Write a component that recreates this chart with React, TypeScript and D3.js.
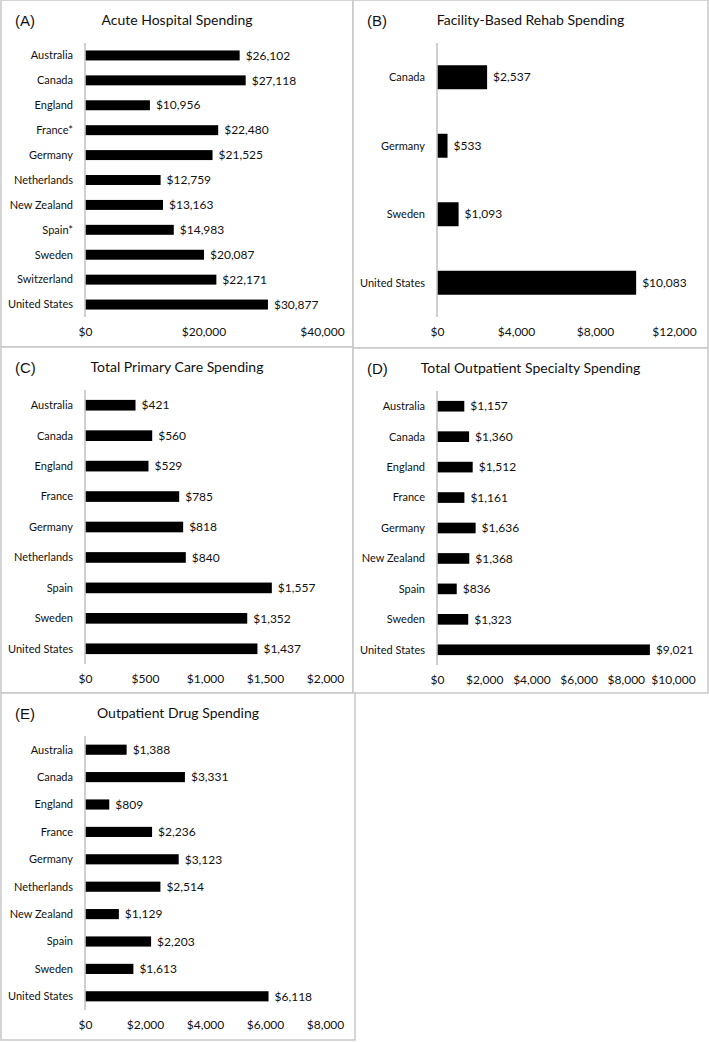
import React, { useEffect, useRef } from 'react';
import * as d3 from 'd3';

// chart data
const acuteCats = ['Australia', 'Canada', 'England', 'France*', 'Germany', 'Netherlands', 'New Zealand', 'Spain*', 'Sweden', 'Switzerland', 'United States'];
const acuteVals = [26102, 27118, 10956, 22480, 21525, 12759, 13163, 14983, 20087, 22171, 30877];
const acuteTicks = [0, 20000, 40000];

const rehabCats = ['Canada', 'Germany', 'Sweden', 'United States'];
const rehabVals = [2537, 533, 1093, 10083];
const rehabTicks = [0, 4000, 8000, 12000];

const primaryCats = ['Australia', 'Canada', 'England', 'France', 'Germany', 'Netherlands', 'Spain', 'Sweden', 'United States'];
const primaryVals = [421, 560, 529, 785, 818, 840, 1557, 1352, 1437];
const primaryTicks = [0, 500, 1000, 1500, 2000];

const specialtyCats = ['Australia', 'Canada', 'England', 'France', 'Germany', 'New Zealand', 'Spain', 'Sweden', 'United States'];
const specialtyVals = [1157, 1360, 1512, 1161, 1636, 1368, 836, 1323, 9021];
const specialtyTicks = [0, 2000, 4000, 6000, 8000, 10000];

const drugCats = ['Australia', 'Canada', 'England', 'France', 'Germany', 'Netherlands', 'New Zealand', 'Spain', 'Sweden', 'United States'];
const drugVals = [1388, 3331, 809, 2236, 3123, 2514, 1129, 2203, 1613, 6118];
const drugTicks = [0, 2000, 4000, 6000, 8000];

// panel layout
const panels = [
  { tag: '(A)', title: 'Acute Hospital Spending', cats: acuteCats, vals: acuteVals, ticks: acuteTicks, x: 1, y: 0, w: 352, h: 347, right: 322, bar: 0.4 },
  { tag: '(B)', title: 'Facility-Based Rehab Spending', cats: rehabCats, vals: rehabVals, ticks: rehabTicks, x: 353, y: 0, w: 355, h: 348, right: 674, bar: 0.35 },
  { tag: '(C)', title: 'Total Primary Care Spending', cats: primaryCats, vals: primaryVals, ticks: primaryTicks, x: 1, y: 347, w: 352, h: 346, right: 325, bar: 0.35 },
  { tag: '(D)', title: 'Total Outpatient Specialty Spending', cats: specialtyCats, vals: specialtyVals, ticks: specialtyTicks, x: 353, y: 348, w: 355, h: 345, right: 673, bar: 0.35 },
  { tag: '(E)', title: 'Outpatient Drug Spending', cats: drugCats, vals: drugVals, ticks: drugTicks, x: 1, y: 693, w: 354, h: 347, right: 325, bar: 0.37 },
];

const font = 'Lato, "Open Sans", sans-serif';
const money = d3.format('$,.0f');

export default function App() {
  const ref = useRef<SVGSVGElement>(null);

  useEffect(() => {
    const svg = d3.select(ref.current);
    svg.selectAll('*').remove();

    panels.forEach(p => {
      const g = svg.append('g');

      g.append('rect')
        .attr('x', p.x)
        .attr('y', p.y)
        .attr('width', p.w)
        .attr('height', p.h)
        .attr('fill', '#fff')
        .attr('stroke', '#c8c8c8')
        .attr('stroke-width', 1.5);

      g.append('text')
        .attr('x', p.x + 14)
        .attr('y', p.y + 26)
        .attr('font-family', '"Liberation Sans", Arial, sans-serif')
        .attr('font-size', 15)
        .attr('fill', '#111')
        .text(p.tag);

      g.append('text')
        .attr('x', p.x + p.w / 2)
        .attr('y', p.y + 25)
        .attr('text-anchor', 'middle')
        .attr('font-family', font)
        .attr('font-size', 14)
        .attr('fill', '#111')
        .text(p.title);

      const x0 = p.x + 84;
      const top = p.y + 43;
      const bottom = p.y + 317;

      const x = d3.scaleLinear()
        .domain([0, p.ticks[p.ticks.length - 1]])
        .range([x0, p.right]);

      const y = d3.scaleBand()
        .domain(p.cats)
        .range([top, bottom]);

      const bh = y.bandwidth() * p.bar;

      g.append('line')
        .attr('x1', x0)
        .attr('x2', x0)
        .attr('y1', top)
        .attr('y2', bottom)
        .attr('stroke', '#c0c0c0')
        .attr('stroke-width', 1.5);

      const rows = p.cats.map((c, i) => ({ c, v: p.vals[i] }));

      g.selectAll('rect.bar')
        .data(rows)
        .enter()
        .append('rect')
        .attr('class', 'bar')
        .attr('x', x0 + 0.75)
        .attr('y', d => (y(d.c) as number) + y.bandwidth() / 2 - bh / 2)
        .attr('width', d => x(d.v) - x0 - 0.75)
        .attr('height', bh)
        .attr('fill', '#000');

      g.selectAll('text.cat')
        .data(rows)
        .enter()
        .append('text')
        .attr('class', 'cat')
        .attr('x', x0 - 12)
        .attr('y', d => (y(d.c) as number) + y.bandwidth() / 2)
        .attr('dy', '0.35em')
        .attr('text-anchor', 'end')
        .attr('font-family', font)
        .attr('font-size', 11)
        .attr('fill', '#111')
        .text(d => d.c);

      g.selectAll('text.val')
        .data(rows)
        .enter()
        .append('text')
        .attr('class', 'val')
        .attr('x', d => x(d.v) + 6)
        .attr('y', d => (y(d.c) as number) + y.bandwidth() / 2)
        .attr('dy', '0.35em')
        .attr('font-family', font)
        .attr('font-size', 12)
        .attr('fill', '#111')
        .text(d => money(d.v));

      // x axis labels only, no line
      const xAxis = d3.axisBottom(x).tickValues(p.ticks).tickFormat(d => money(d as number)).tickSize(0).tickPadding(0);
      const ax = g.append('g')
        .attr('transform', `translate(0, ${p.y + 327})`)
        .call(xAxis);
      ax.select('.domain').remove();
      ax.selectAll('text')
        .attr('font-family', font)
        .attr('font-size', 12)
        .attr('fill', '#111');
    });
  }, []);

  return (
    <svg
      ref={ref}
      width={709}
      height={1042}
      style={{ position: 'absolute', left: 0, top: 0, background: '#fff' }}
    />
  );
}
